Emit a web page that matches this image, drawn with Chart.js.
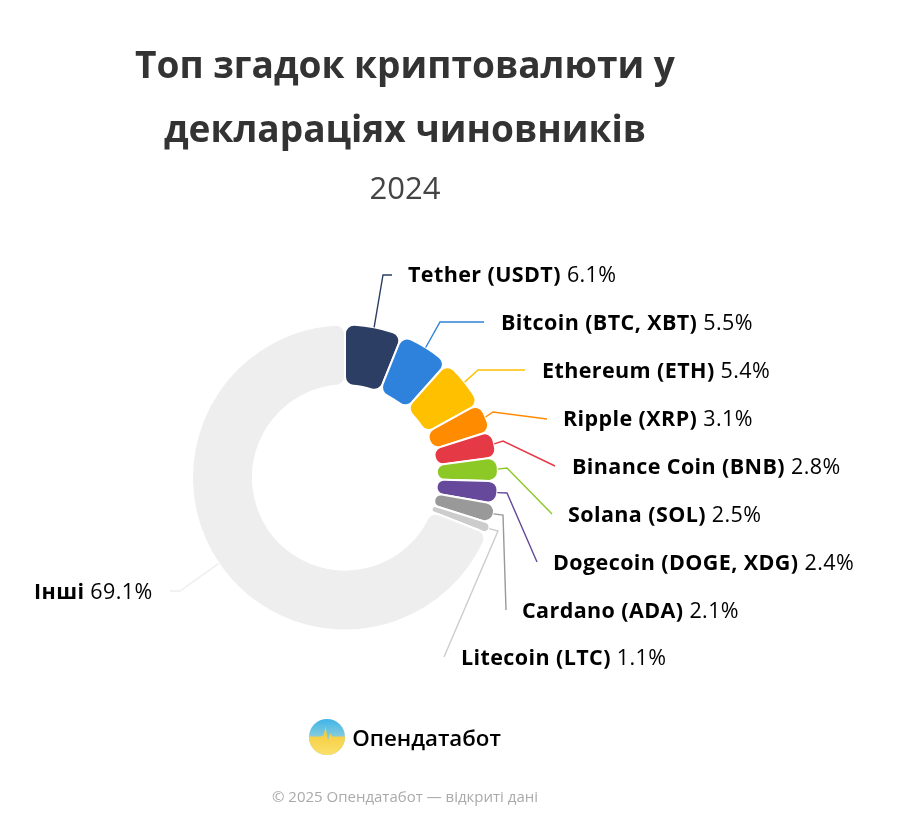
<!DOCTYPE html>
<html lang="uk">
<head>
<meta charset="utf-8">
<title>Топ згадок криптовалюти</title>
<script src="https://cdn.jsdelivr.net/npm/chart.js@4"></script>
<style>
    html, body { margin: 0; padding: 0; background: #fff; }
    body { position: relative; width: 900px; height: 826px; overflow: hidden; font-family: "Open Sans", sans-serif; }
    canvas { position: absolute; left: 0; top: 0; }
    .centered { position: absolute; left: 0; width: 810px; text-align: center; white-space: nowrap; }
    .title { top: 32px; font-size: 37.1px; line-height: 64px; font-weight: 700; color: #333; }
    .subtitle { top: 165px; font-size: 31px; line-height: 44px; color: #444; }
    .logo { top: 718px; height: 38px; display: flex; justify-content: center; align-items: center; gap: 7px; }
    .logo span { font-size: 22.3px; font-weight: 600; color: #000; }
    .copy { top: 785px; font-size: 15px; line-height: 22px; color: #aaa; }
</style>
</head>
<body>
<canvas id="myChart" width="900" height="826"></canvas>
<div class="centered title">Топ згадок криптовалюти у<br>деклараціях чиновників</div>
<div class="centered subtitle">2024</div>
<div class="centered logo">
    <svg width="36" height="36" viewBox="0 0 37 37">
        <defs>
            <linearGradient id="sky" x1="0" y1="0" x2="0" y2="1">
                <stop offset="0" stop-color="#3fb4ea"/><stop offset="0.55" stop-color="#8fcfd8"/>
            </linearGradient>
            <linearGradient id="wheat" x1="0" y1="0" x2="0" y2="1">
                <stop offset="0.2" stop-color="#f6cd3f"/><stop offset="1" stop-color="#fbe06c"/>
            </linearGradient>
            <clipPath id="disc"><circle cx="18.5" cy="18.5" r="18.5"/></clipPath>
        </defs>
        <g clip-path="url(#disc)">
            <rect width="37" height="37" fill="url(#sky)"/>
            <path d="M0 18 H12 L15 17 L17 8 L19.5 22 L22 15 L24 18 H37 V37 H0 Z" fill="url(#wheat)"/>
        </g>
    </svg>
    <span>Опендатабот</span>
</div>
<div class="centered copy">© 2025 Опендатабот — відкриті дані</div>

<script>
const coinNames = ['Tether (USDT)', 'Bitcoin (BTC, XBT)', 'Ethereum (ETH)', 'Ripple (XRP)', 'Binance Coin (BNB)',
    'Solana (SOL)', 'Dogecoin (DOGE, XDG)', 'Cardano (ADA)', 'Litecoin (LTC)', 'Інші'];
const coinShares = [6.1, 5.5, 5.4, 3.1, 2.8, 2.5, 2.4, 2.1, 1.1, 69.1];
const coinColors = ['#2c3e63', '#2e82dc', '#ffc000', '#ff8c00', '#e63946', '#8cc826', '#66499a', '#999999', '#cccccc', '#eeeeee'];

// where each label sits, and the two bends of its leader line
const labelSpots = [[408, 276], [501, 324], [542, 372], [563, 420], [572, 468], [568, 516], [553, 564], [522, 612], [461, 659], [34, 593]];
const leaderBends = [[383, 275], [440, 322], [478, 370], [493, 412], [503, 441], [507, 468], [507, 493], [503, 515], [498, 531], [180, 591]];
const leaderEnds = [[392, 275], [484, 322], [525, 370], [547, 419], [555, 466], [552, 514], [537, 562], [506, 610], [444, 657], [170, 591]];

const calloutLabels = {
    id: 'calloutLabels',
    afterDatasetsDraw(chart) {
        const ctx = chart.ctx;
        ctx.save();
        chart.getDatasetMeta(0).data.forEach((arc, i) => {
            const p = arc.getProps(['x', 'y', 'startAngle', 'endAngle', 'outerRadius'], true);
            const mid = (p.startAngle + p.endAngle) / 2;
            ctx.beginPath();
            ctx.moveTo(p.x + Math.cos(mid) * p.outerRadius, p.y + Math.sin(mid) * p.outerRadius);
            ctx.lineTo(leaderBends[i][0], leaderBends[i][1]);
            ctx.lineTo(leaderEnds[i][0], leaderEnds[i][1]);
            ctx.strokeStyle = coinColors[i];
            ctx.lineWidth = 1.4;
            ctx.stroke();

            ctx.textBaseline = 'middle';
            ctx.textAlign = 'left';
            ctx.fillStyle = '#000';
            ctx.letterSpacing = '0.4px';
            ctx.font = '700 21.5px "Open Sans"';
            ctx.fillText(coinNames[i], labelSpots[i][0], labelSpots[i][1]);
            const w = ctx.measureText(coinNames[i] + ' ').width;
            ctx.font = '400 21.5px "Open Sans"';
            ctx.fillText(coinShares[i] + '%', labelSpots[i][0] + w, labelSpots[i][1]);
        });
        ctx.restore();
    }
};

const chart = new Chart(document.getElementById('myChart').getContext('2d'), {
    type: 'doughnut',
    plugins: [calloutLabels],
    data: {
        labels: coinNames,
        datasets: [{
            data: coinShares,
            backgroundColor: coinColors,
            borderColor: '#fff',
            borderWidth: 2,
            borderRadius: 9
        }]
    },
    options: {
        responsive: false,
        animation: false,
        radius: 153,
        cutout: '60.2%',
        layout: { padding: { left: 175, right: 385, top: 307, bottom: 178 } },
        plugins: { legend: { display: false }, tooltip: { enabled: false } }
    }
});
</script>
</body>
</html>
